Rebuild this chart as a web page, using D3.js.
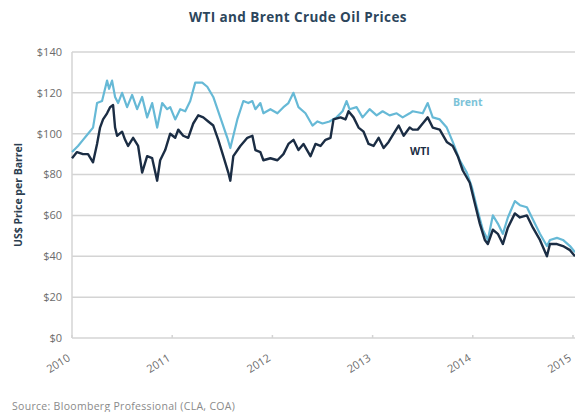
<!DOCTYPE html>
<html>
<head>
<meta charset="utf-8">
<script src="https://cdn.jsdelivr.net/npm/d3@7"></script>
<style>
  body { margin: 0; background: #fff; }
  svg { display: block; font-family: "Open Sans", sans-serif; }
  .grid line { stroke: #d4d4d4; stroke-width: 1.5; }
  .tick-label { fill: #6b6b6b; font-size: 11px; }
</style>
</head>
<body>
<svg class="chart" width="575" height="412"></svg>
<script>
// decimal year, US$ per barrel
var brent = [
  [2010.00, 91], [2010.06, 94], [2010.11, 97], [2010.16, 100], [2010.21, 103],
  [2010.25, 115], [2010.30, 116], [2010.35, 126], [2010.37, 122], [2010.40, 126],
  [2010.43, 118], [2010.46, 115], [2010.50, 120], [2010.55, 113], [2010.60, 119],
  [2010.65, 112], [2010.70, 118], [2010.75, 108], [2010.80, 115], [2010.85, 103],
  [2010.90, 115], [2010.95, 112], [2010.98, 113], [2011.03, 107], [2011.08, 112],
  [2011.13, 111], [2011.18, 116], [2011.23, 125], [2011.30, 125], [2011.35, 123],
  [2011.41, 118], [2011.48, 108], [2011.55, 98], [2011.58, 93], [2011.65, 107],
  [2011.71, 116], [2011.76, 115], [2011.80, 116], [2011.83, 112], [2011.88, 115],
  [2011.91, 110], [2011.98, 112], [2012.05, 110], [2012.11, 113], [2012.16, 115],
  [2012.21, 120], [2012.26, 113], [2012.33, 110], [2012.40, 104], [2012.45, 106],
  [2012.50, 105], [2012.57, 106], [2012.64, 108], [2012.70, 111], [2012.74, 116],
  [2012.77, 112], [2012.84, 113], [2012.90, 108], [2012.97, 112], [2013.04, 109],
  [2013.10, 111], [2013.17, 109], [2013.24, 110], [2013.30, 108], [2013.37, 110],
  [2013.40, 111], [2013.50, 110], [2013.55, 115], [2013.60, 108], [2013.67, 107],
  [2013.74, 103], [2013.80, 96], [2013.87, 87], [2013.94, 81], [2013.99, 74],
  [2014.04, 64], [2014.10, 53], [2014.15, 48], [2014.20, 60], [2014.25, 56],
  [2014.30, 51], [2014.35, 59], [2014.42, 67], [2014.47, 65], [2014.54, 64],
  [2014.60, 58], [2014.67, 51], [2014.74, 45], [2014.77, 48], [2014.84, 49],
  [2014.90, 48], [2014.97, 45], [2015.02, 42]
];

var wti = [
  [2010.00, 88], [2010.05, 91], [2010.11, 90], [2010.16, 90], [2010.21, 86],
  [2010.25, 95], [2010.28, 103], [2010.31, 107], [2010.35, 110], [2010.38, 113],
  [2010.41, 114], [2010.43, 103], [2010.45, 99], [2010.50, 101], [2010.53, 97],
  [2010.56, 94], [2010.61, 98], [2010.66, 94], [2010.70, 81], [2010.75, 89],
  [2010.80, 88], [2010.85, 77], [2010.88, 87], [2010.93, 92], [2010.98, 100],
  [2011.03, 98], [2011.06, 102], [2011.11, 99], [2011.16, 98], [2011.21, 105],
  [2011.26, 109], [2011.31, 108], [2011.36, 106], [2011.41, 104], [2011.46, 97],
  [2011.51, 89], [2011.56, 81], [2011.58, 77], [2011.61, 89], [2011.68, 94],
  [2011.75, 98], [2011.80, 99], [2011.83, 92], [2011.88, 91], [2011.91, 87],
  [2011.98, 88], [2012.05, 87], [2012.11, 90], [2012.16, 95], [2012.21, 97],
  [2012.26, 92], [2012.31, 95], [2012.38, 89], [2012.43, 95], [2012.48, 94],
  [2012.53, 97], [2012.58, 98], [2012.61, 107], [2012.68, 108], [2012.73, 107],
  [2012.76, 111], [2012.81, 108], [2012.86, 103], [2012.91, 101], [2012.96, 95],
  [2013.01, 94], [2013.06, 98], [2013.11, 93], [2013.16, 96], [2013.21, 100],
  [2013.26, 104], [2013.31, 99], [2013.37, 103], [2013.40, 102], [2013.45, 102],
  [2013.50, 105], [2013.55, 108], [2013.60, 103], [2013.67, 102], [2013.74, 96],
  [2013.80, 94], [2013.85, 89], [2013.90, 82], [2013.97, 76], [2014.02, 66],
  [2014.07, 56], [2014.12, 48], [2014.15, 46], [2014.20, 53], [2014.25, 51],
  [2014.30, 46], [2014.35, 54], [2014.42, 61], [2014.47, 59], [2014.54, 60],
  [2014.60, 54], [2014.67, 48], [2014.74, 40], [2014.77, 46], [2014.84, 46],
  [2014.90, 45], [2014.97, 43], [2015.02, 40]
];

var yearTicks = [2010, 2011, 2012, 2013, 2014, 2015];
var priceTicks = [0, 20, 40, 60, 80, 100, 120, 140];

(function() {
  var svg = d3.select(".chart");
  var left = 72, right = 575, top = 52, bottom = 338;

  var x = d3.scaleLinear()
    .domain([2010, 2015.02])
    .range([left, right]);

  var y = d3.scaleLinear()
    .domain([0, 140])
    .range([bottom, top]);

  // title
  svg.append("text")
    .attr("x", 298)
    .attr("y", 22)
    .attr("text-anchor", "middle")
    .style("font-size", "13.5px")
    .style("letter-spacing", "0.4px")
    .style("font-weight", "bold")
    .style("fill", "#2c465c")
    .text("WTI and Brent Crude Oil Prices");

  // gridlines
  svg.append("g")
    .attr("class", "grid")
    .selectAll("line")
    .data(priceTicks)
    .enter().append("line")
    .attr("x1", left)
    .attr("x2", right)
    .attr("y1", function(d) { return y(d); })
    .attr("y2", function(d) { return y(d); });

  svg.append("line")
    .attr("x1", left).attr("x2", left)
    .attr("y1", top).attr("y2", bottom)
    .style("stroke", "#d4d4d4")
    .style("stroke-width", 1.5);

  // y tick labels
  svg.append("g")
    .selectAll("text")
    .data(priceTicks)
    .enter().append("text")
    .attr("class", "tick-label")
    .attr("x", left - 10)
    .attr("y", function(d) { return y(d); })
    .attr("dy", "0.35em")
    .attr("text-anchor", "end")
    .text(function(d) { return "$" + d; });

  // x ticks
  svg.append("g")
    .selectAll("line")
    .data(yearTicks)
    .enter().append("line")
    .attr("x1", function(d) { return x(d); })
    .attr("x2", function(d) { return x(d); })
    .attr("y1", bottom)
    .attr("y2", bottom - 3)
    .style("stroke", "#d4d4d4")
    .style("stroke-width", 1.5);

  svg.append("g")
    .selectAll("text")
    .data(yearTicks)
    .enter().append("text")
    .attr("class", "tick-label")
    .attr("text-anchor", "end")
    .attr("transform", function(d) {
      return "translate(" + (x(d) - 1) + "," + (bottom + 22) + ") rotate(-32)";
    })
    .text(function(d) { return d; });

  // y axis title
  svg.append("text")
    .attr("transform", "translate(22,195) rotate(-90)")
    .attr("text-anchor", "middle")
    .style("font-size", "10.5px")
    .style("font-weight", "bold")
    .style("fill", "#2c3e50")
    .text("US$ Price per Barrel");

  var line = d3.line()
    .x(function(d) { return x(d[0]); })
    .y(function(d) { return y(d[1]); });

  svg.append("path")
    .datum(brent)
    .attr("d", line)
    .style("fill", "none")
    .style("stroke", "#66b9d6")
    .style("stroke-width", 2.2)
    .style("stroke-linejoin", "round");

  svg.append("path")
    .datum(wti)
    .attr("d", line)
    .style("fill", "none")
    .style("stroke", "#1b2d44")
    .style("stroke-width", 2.4)
    .style("stroke-linejoin", "round");

  // series labels
  svg.append("text")
    .attr("x", 453)
    .attr("y", 106)
    .style("font-size", "10.5px")
    .style("font-weight", "bold")
    .style("fill", "#7cc3d8")
    .text("Brent");

  svg.append("text")
    .attr("x", 410)
    .attr("y", 155)
    .style("font-size", "10.5px")
    .style("font-weight", "bold")
    .style("fill", "#1b2d44")
    .text("WTI");

  // source
  svg.append("text")
    .attr("x", 12)
    .attr("y", 410)
    .style("font-size", "10.5px")
    .style("letter-spacing", "0.3px")
    .style("fill", "#8a8a8a")
    .text("Source: Bloomberg Professional (CLA, COA)");
})();
</script>
</body>
</html>
